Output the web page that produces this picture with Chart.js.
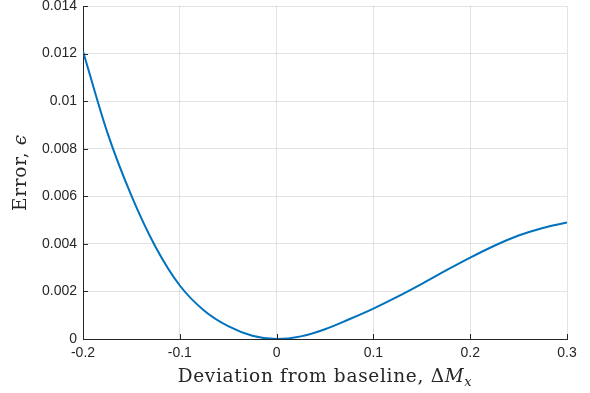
<!DOCTYPE html>
<html>
<head>
<meta charset="utf-8">
<script src="https://cdn.jsdelivr.net/npm/chart.js@4"></script>
<style>
  html, body { margin: 0; padding: 0; background: #ffffff; }
  #wrap { width: 590px; height: 393px; position: relative; }
</style>
</head>
<body>
<div id="wrap"><canvas id="chart"></canvas></div>
<script>
// Error vs deviation from baseline
const deviation = [
  -0.2, -0.175, -0.15, -0.125, -0.1, -0.075, -0.05, -0.025,
  0, 0.025, 0.05, 0.075, 0.1, 0.125, 0.15, 0.175, 0.2, 0.225, 0.25, 0.275, 0.3,
];
const errorValues = [
  0.0121, 0.0087, 0.00603, 0.00387, 0.00225, 0.0012, 0.00054, 0.00014,
  0, 0.00011, 0.00041, 0.00083, 0.00128, 0.00178, 0.00232, 0.00288, 0.00342, 0.00392, 0.00435, 0.00467, 0.0049,
];

const xTicks = [-0.2, -0.1, 0, 0.1, 0.2, 0.3];
const xTickLabels = ["-0.2", "-0.1", "0", "0.1", "0.2", "0.3"];
const yTicks = [0, 0.002, 0.004, 0.006, 0.008, 0.01, 0.012, 0.014];
const yTickLabels = ["0", "0.002", "0.004", "0.006", "0.008", "0.01", "0.012", "0.014"];

const AXIS = "#262626";
const GRID = "rgba(38,38,38,0.13)";
const LINE = "#0072BD";
const TICK_FONT = { family: "'Liberation Sans', Arial, sans-serif", size: 14 };

// inward tick marks on left and bottom axes
const innerTicks = {
  id: "innerTicks",
  afterDraw(chart) {
    const { ctx, chartArea: a, scales } = chart;
    ctx.save();
    ctx.strokeStyle = AXIS;
    ctx.lineWidth = 1;
    ctx.beginPath();
    xTicks.forEach(v => {
      const px = Math.round(scales.x.getPixelForValue(v)) + 0.5;
      ctx.moveTo(px, a.bottom);
      ctx.lineTo(px, a.bottom - 5);
    });
    yTicks.forEach(v => {
      const py = Math.round(scales.y.getPixelForValue(v)) + 0.5;
      ctx.moveTo(a.left, py);
      ctx.lineTo(a.left + 5, py);
    });
    ctx.stroke();
    ctx.restore();
  },
};

// axis titles with math-style italics
const axisTitles = {
  id: "axisTitles",
  afterDraw(chart) {
    const { ctx, chartArea: a } = chart;
    const serif = "'DejaVu Serif', 'Liberation Serif', serif";
    const size = 18.5;
    ctx.save();
    ctx.fillStyle = AXIS;
    ctx.textBaseline = "alphabetic";
    ctx.textAlign = "left";
    ctx.letterSpacing = "0.7px";

    // x title
    const partA = "Deviation from baseline, \u0394";
    ctx.font = `${size}px ${serif}`;
    const wA = ctx.measureText(partA).width;
    ctx.font = `italic ${size}px ${serif}`;
    const wB = ctx.measureText("M").width;
    ctx.font = `italic ${size * 0.7}px ${serif}`;
    const wC = ctx.measureText("x").width;
    let x = (a.left + a.right) / 2 - (wA + wB + wC) / 2;
    const base = 382;
    ctx.font = `${size}px ${serif}`;
    ctx.fillText(partA, x, base);
    x += wA;
    ctx.font = `italic ${size}px ${serif}`;
    ctx.fillText("M", x, base);
    x += wB;
    ctx.font = `italic ${size * 0.7}px ${serif}`;
    ctx.fillText("x", x, base + 4);

    // y title
    ctx.translate(26, (a.top + a.bottom) / 2);
    ctx.rotate(-Math.PI / 2);
    const eA = "Error, ";
    ctx.font = `${size}px ${serif}`;
    const w1 = ctx.measureText(eA).width;
    ctx.font = `italic ${size}px ${serif}`;
    const w2 = ctx.measureText("\u03F5").width;
    const y0 = -(w1 + w2) / 2;
    ctx.font = `${size}px ${serif}`;
    ctx.fillText(eA, y0, 0);
    ctx.font = `italic ${size}px ${serif}`;
    ctx.fillText("\u03F5", y0 + w1, 0);
    ctx.restore();
  },
};

function fixedTicks(values) {
  return scale => {
    scale.ticks = values.map(v => ({ value: v }));
  };
}

new Chart(document.getElementById("chart"), {
  type: "line",
  data: {
    datasets: [{
      data: deviation.map((d, i) => ({ x: d, y: errorValues[i] })),
      borderColor: LINE,
      borderWidth: 2,
      pointRadius: 0,
      fill: false,
      cubicInterpolationMode: "monotone",
    }],
  },
  options: {
    responsive: true,
    maintainAspectRatio: false,
    devicePixelRatio: 1,
    animation: false,
    layout: { padding: { left: 0, right: 23, top: 6, bottom: 0 } },
    plugins: {
      legend: { display: false },
      tooltip: { enabled: false },
    },
    scales: {
      x: {
        type: "linear",
        min: -0.2,
        max: 0.3,
        afterBuildTicks: fixedTicks(xTicks),
        afterFit(scale) {
          scale.height = 54;
          scale.paddingLeft = 0;
          scale.paddingRight = 0;
        },
        ticks: {
          color: AXIS,
          font: TICK_FONT,
          padding: 6,
          maxRotation: 0,
          autoSkip: false,
          callback: (v, i) => xTickLabels[i],
        },
        grid: { color: GRID, drawTicks: false, lineWidth: 1 },
        border: { display: true, color: AXIS, width: 1 },
      },
      y: {
        min: 0,
        max: 0.014,
        afterBuildTicks: fixedTicks(yTicks),
        afterFit(scale) {
          scale.width = 83;
          scale.paddingTop = 0;
          scale.paddingBottom = 0;
        },
        ticks: {
          color: AXIS,
          font: TICK_FONT,
          padding: 6,
          autoSkip: false,
          callback: (v, i) => yTickLabels[i],
        },
        grid: { color: GRID, drawTicks: false, lineWidth: 1 },
        border: { display: true, color: AXIS, width: 1 },
      },
    },
  },
  plugins: [innerTicks, axisTitles],
});
</script>
</body>
</html>
